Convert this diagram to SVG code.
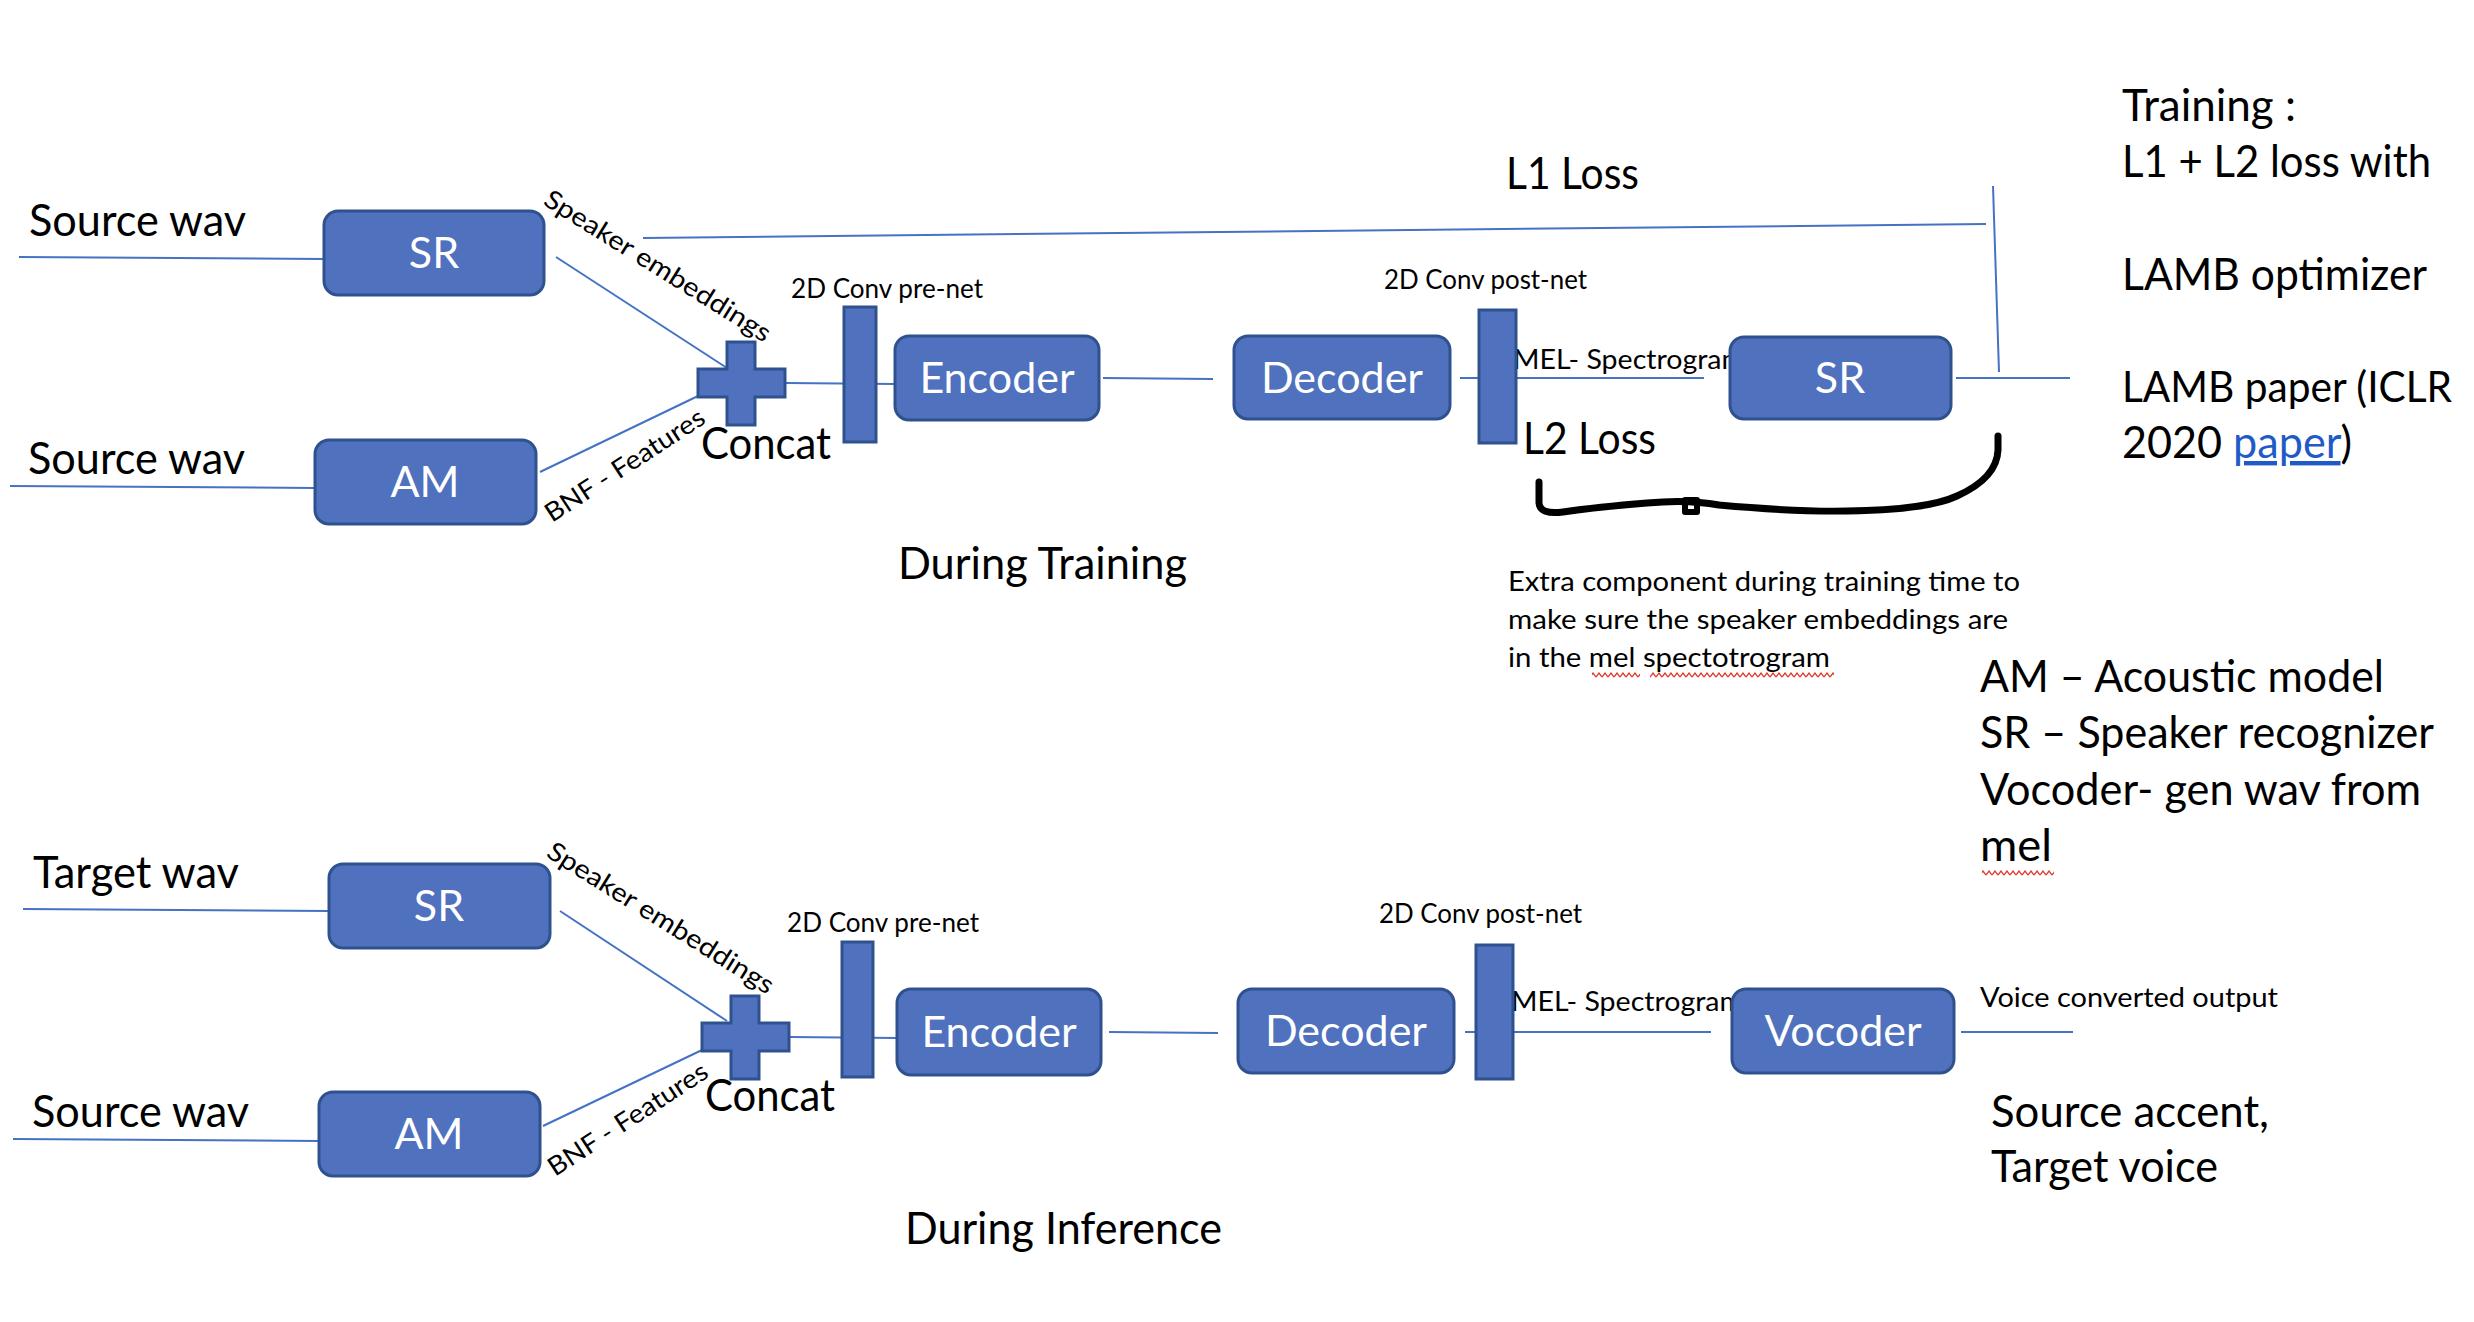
<svg xmlns="http://www.w3.org/2000/svg" width="2474" height="1322" viewBox="0 0 2474 1322">
<style>
.box{fill:#4F71BE;stroke:#2F528F;stroke-width:3}
.conn{stroke:#4472C4;stroke-width:2;fill:none}
.t{font-family:Lato,"Open Sans","Liberation Sans",sans-serif;fill:#000}
.big{font-size:44px}
.sm{font-size:26px}
.lbl{font-family:Lato,"Open Sans","Liberation Sans",sans-serif;fill:#fff;font-size:43px;text-anchor:middle}
</style>
<defs>
<pattern id="wave" width="6" height="6" patternUnits="userSpaceOnUse">
<path d="M0,5 L3,1 L6,5" stroke="#E03A2E" stroke-width="1.3" fill="none"/>
</pattern>
</defs>
<rect width="2474" height="1322" fill="#fff"/>

<g id="connectors">
<!-- training -->
<line class="conn" x1="19" y1="257" x2="324" y2="259"/>
<line class="conn" x1="556" y1="257" x2="727" y2="368"/>
<line class="conn" x1="10" y1="486" x2="315" y2="488"/>
<line class="conn" x1="540" y1="472" x2="698" y2="396"/>
<line class="conn" x1="786" y1="383" x2="895" y2="384"/>
<line class="conn" x1="1103" y1="378" x2="1213" y2="379"/>
<line class="conn" x1="1460" y1="378" x2="1704" y2="378"/>
<line class="conn" x1="1956" y1="378" x2="2070" y2="378"/>
<line class="conn" x1="643" y1="238" x2="1986" y2="224"/>
<line class="conn" x1="1993" y1="186" x2="1999" y2="372"/>
<!-- inference -->
<line class="conn" x1="23" y1="909" x2="329" y2="911"/>
<line class="conn" x1="560" y1="911" x2="727" y2="1021"/>
<line class="conn" x1="13" y1="1139" x2="319" y2="1141"/>
<line class="conn" x1="543" y1="1126" x2="702" y2="1050"/>
<line class="conn" x1="789" y1="1037" x2="897" y2="1038"/>
<line class="conn" x1="1109" y1="1032" x2="1218" y2="1033"/>
<line class="conn" x1="1465" y1="1032" x2="1711" y2="1032"/>
<line class="conn" x1="1961" y1="1032" x2="2073" y2="1032"/>
</g>

<!-- texts that sit behind boxes -->
<text class="t sm" x="1513" y="369" textLength="232" lengthAdjust="spacingAndGlyphs">MEL- Spectrogram</text>
<text class="t sm" x="1511" y="1011" textLength="232" lengthAdjust="spacingAndGlyphs">MEL- Spectrogram</text>

<!-- Training nodes -->
<g id="sr-train"><rect class="box" x="324" y="211" width="220" height="84" rx="14"/><text class="lbl" x="434" y="268">SR</text></g>
<g id="am-train"><rect class="box" x="315" y="440" width="221" height="84" rx="14"/><text class="lbl" x="425" y="497">AM</text></g>
<g id="concat-train"><path class="box" d="M727,342 H755 V369 H785 V397 H755 V425 H727 V397 H698 V369 H727 Z"/></g>
<g id="prenet-train"><rect class="box" x="844" y="307" width="32" height="135"/></g>
<g id="encoder-train"><rect class="box" x="895" y="336" width="204" height="84" rx="14"/><text class="lbl" x="997" y="393">Encoder</text></g>
<g id="decoder-train"><rect class="box" x="1234" y="336" width="216" height="83" rx="14"/><text class="lbl" x="1342" y="393">Decoder</text></g>
<g id="postnet-train"><rect class="box" x="1479" y="310" width="37" height="133"/></g>
<g id="sr2-train"><rect class="box" x="1730" y="337" width="221" height="82" rx="14"/><text class="lbl" x="1840" y="393">SR</text></g>

<!-- Inference nodes -->
<g id="sr-inf"><rect class="box" x="329" y="864" width="221" height="84" rx="14"/><text class="lbl" x="439" y="921">SR</text></g>
<g id="am-inf"><rect class="box" x="319" y="1092" width="221" height="84" rx="14"/><text class="lbl" x="429" y="1149">AM</text></g>
<g id="concat-inf"><path class="box" d="M731,996 H759 V1023 H789 V1051 H759 V1079 H731 V1051 H702 V1023 H731 Z"/></g>
<g id="prenet-inf"><rect class="box" x="842" y="942" width="31" height="135"/></g>
<g id="encoder-inf"><rect class="box" x="897" y="989" width="204" height="86" rx="14"/><text class="lbl" x="999" y="1047">Encoder</text></g>
<g id="decoder-inf"><rect class="box" x="1238" y="989" width="216" height="84" rx="14"/><text class="lbl" x="1346" y="1046">Decoder</text></g>
<g id="postnet-inf"><rect class="box" x="1476" y="945" width="37" height="134"/></g>
<g id="vocoder-inf"><rect class="box" x="1732" y="989" width="222" height="84" rx="14"/><text class="lbl" x="1843" y="1046">Vocoder</text></g>

<!-- hand drawn brace -->
<g id="brace" fill="none" stroke="#000" stroke-width="7" stroke-linecap="round" stroke-linejoin="round">
<path d="M1539,482 L1539,503 Q1540,515 1563,512 Q1597,507 1647,503 Q1687,499 1719,505 Q1797,512 1847,511 Q1927,510 1957,496 Q1997,478 1998,450 L1998,436"/>
<rect x="1685" y="500" width="12" height="12" stroke-width="6"/>
</g>

<!-- Training labels -->
<text class="t big" x="29" y="236" textLength="217" lengthAdjust="spacingAndGlyphs">Source wav</text>
<text class="t big" x="28" y="474" textLength="217" lengthAdjust="spacingAndGlyphs">Source wav</text>
<text class="t sm" transform="translate(542,204) rotate(32)" textLength="262" lengthAdjust="spacingAndGlyphs">Speaker embeddings</text>
<text class="t sm" transform="translate(552,523) rotate(-33)" textLength="185" lengthAdjust="spacingAndGlyphs">BNF - Features</text>
<text class="t big" x="701" y="459" textLength="130" lengthAdjust="spacingAndGlyphs">Concat</text>
<text class="t sm" x="791" y="298" textLength="192" lengthAdjust="spacingAndGlyphs">2D Conv pre-net</text>
<text class="t sm" x="1384" y="289" textLength="203" lengthAdjust="spacingAndGlyphs">2D Conv post-net</text>
<text class="t big" x="1506" y="189" textLength="133" lengthAdjust="spacingAndGlyphs">L1 Loss</text>
<text class="t big" x="1523" y="454" textLength="133" lengthAdjust="spacingAndGlyphs">L2 Loss</text>
<text class="t big" x="898" y="579" textLength="289" lengthAdjust="spacingAndGlyphs">During Training</text>
<text class="t sm" x="1508" y="591" textLength="512" lengthAdjust="spacingAndGlyphs">Extra component during training time to</text>
<text class="t sm" x="1508" y="629" textLength="500" lengthAdjust="spacingAndGlyphs">make sure the speaker embeddings are</text>
<text class="t sm" x="1508" y="667" textLength="322" lengthAdjust="spacingAndGlyphs">in the mel spectotrogram</text>
<rect x="1592" y="672" width="48" height="6" fill="url(#wave)"/>
<rect x="1650" y="672" width="184" height="6" fill="url(#wave)"/>

<text class="t big" x="2122" y="121" textLength="174" lengthAdjust="spacingAndGlyphs">Training :</text>
<text class="t big" x="2122" y="177" textLength="309" lengthAdjust="spacingAndGlyphs">L1 + L2 loss with</text>
<text class="t big" x="2122" y="290" textLength="305" lengthAdjust="spacingAndGlyphs">LAMB optimizer</text>
<text class="t" x="2122" y="402" font-size="42" textLength="330" lengthAdjust="spacingAndGlyphs">LAMB paper (ICLR</text>
<text class="t big" x="2122" y="458" textLength="230" lengthAdjust="spacingAndGlyphs">2020 <tspan fill="#1F5BC6" text-decoration="underline">paper</tspan>)</text>

<text class="t big" x="1980" y="692" textLength="404" lengthAdjust="spacingAndGlyphs">AM – Acoustic model</text>
<text class="t big" x="1980" y="748" textLength="454" lengthAdjust="spacingAndGlyphs">SR – Speaker recognizer</text>
<text class="t big" x="1980" y="805" textLength="441" lengthAdjust="spacingAndGlyphs">Vocoder- gen wav from</text>
<text class="t big" x="1980" y="861" textLength="72" lengthAdjust="spacingAndGlyphs">mel</text>
<rect x="1982" y="870" width="72" height="6" fill="url(#wave)"/>

<!-- Inference labels -->
<text class="t big" x="33" y="888" textLength="206" lengthAdjust="spacingAndGlyphs">Target wav</text>
<text class="t big" x="32" y="1127" textLength="217" lengthAdjust="spacingAndGlyphs">Source wav</text>
<text class="t sm" transform="translate(545,856) rotate(32)" textLength="262" lengthAdjust="spacingAndGlyphs">Speaker embeddings</text>
<text class="t sm" transform="translate(555,1177) rotate(-33)" textLength="185" lengthAdjust="spacingAndGlyphs">BNF - Features</text>
<text class="t big" x="705" y="1111" textLength="130" lengthAdjust="spacingAndGlyphs">Concat</text>
<text class="t sm" x="787" y="932" textLength="192" lengthAdjust="spacingAndGlyphs">2D Conv pre-net</text>
<text class="t sm" x="1379" y="923" textLength="203" lengthAdjust="spacingAndGlyphs">2D Conv post-net</text>
<text class="t sm" x="1980" y="1007" textLength="298" lengthAdjust="spacingAndGlyphs">Voice converted output</text>
<text class="t big" x="1991" y="1127" textLength="278" lengthAdjust="spacingAndGlyphs">Source accent,</text>
<text class="t big" x="1991" y="1182" textLength="227" lengthAdjust="spacingAndGlyphs">Target voice</text>
<text class="t big" x="905" y="1244" textLength="317" lengthAdjust="spacingAndGlyphs">During Inference</text>
</svg>
